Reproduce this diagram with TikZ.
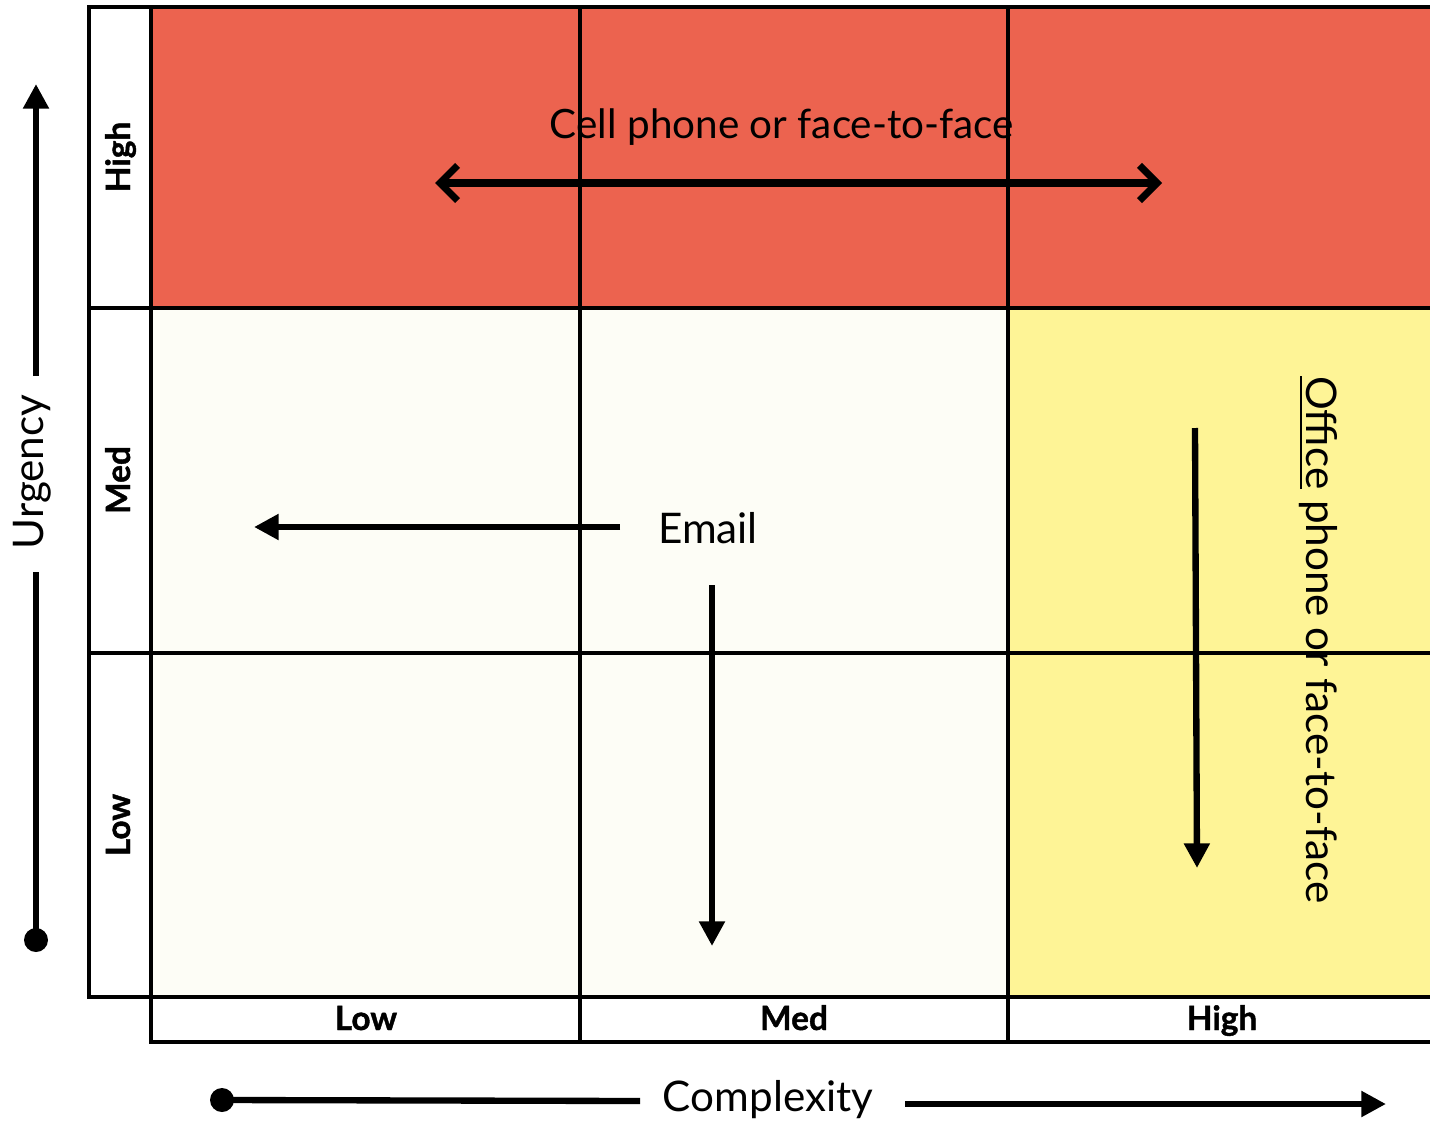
\documentclass[tikz,border=0pt]{standalone}
\usepackage{fontspec}
\setmainfont{Lato}
\newfontfamily\heavyfont{Lato}[BoldFeatures={FakeBold=1.2}]
\usetikzlibrary{arrows.meta}
\definecolor{hotred}{RGB}{236,99,79}
\definecolor{paleyellow}{RGB}{254,244,150}
\definecolor{cream}{RGB}{253,253,246}
\begin{document}
\begin{tikzpicture}[x=0.01cm,y=-0.01cm,
  gridline/.style={line width=1pt, black},
  axislbl/.style={font=\heavyfont\bfseries\fontsize{9.5}{11}\selectfont, inner sep=0pt},
  bigtxt/.style={font=\fontsize{12}{14}\selectfont, inner sep=0pt},
  fatarrow/.style={line width=1.8pt, -{Triangle[length=7pt,width=7pt]}},
  plainbar/.style={line width=1.8pt},
  barbarrow/.style={line width=2pt, {Straight Barb[length=5pt,width=10pt]}-{Straight Barb[length=5pt,width=10pt]}},
  enddot/.style={fill=black, draw=none},
]
\useasboundingbox (0,0) rectangle (1430,1124);
\fill[white] (0,0) rectangle (1430,1124);

% coloured cells
\fill[hotred] (151,7) rectangle (1430,308);
\fill[cream] (151,308) rectangle (1008,997);
\fill[paleyellow] (1008,308) rectangle (1430,997);

% grid
\draw[gridline] (1430,7) -- (89,7) -- (89,997) -- (1430,997);
\draw[gridline] (89,308) -- (1430,308);
\draw[gridline] (89,653) -- (1430,653);
\draw[gridline] (151,7) -- (151,1042) -- (1430,1042);
\draw[gridline] (580,7) -- (580,1042);
\draw[gridline] (1008,7) -- (1008,1042);

% row labels (urgency levels)
\node[axislbl, rotate=90, anchor=base] (rowHigh) at (130,157) {High};
\node[axislbl, rotate=90, anchor=base] (rowMed)  at (130,480) {Med};
\node[axislbl, rotate=90, anchor=base] (rowLow)  at (130,825) {Low};

% column labels (complexity levels)
\node[axislbl, anchor=base] (colLow)  at (366,1030) {Low};
\node[axislbl, anchor=base] (colMed)  at (794,1030) {Med};
\node[axislbl, anchor=base] (colHigh) at (1222,1030) {High};

% cell phone band
\node[bigtxt, font=\fontsize{11.5}{14}\selectfont] (cell) at (782,127) {Cell phone or face-to-face};
\coordinate (cellL) at (435,183);
\coordinate (cellR) at (1162,183);
\draw[barbarrow] (cellL) -- (cellR);

% email
\node[bigtxt] (email) at (708,528) {Email};
\coordinate (emailS) at (620,527);
\coordinate (emailL) at (254,527);
\coordinate (emailT) at (712,585);
\coordinate (emailD) at (712,946);
\draw[fatarrow] (emailS) -- (emailL);
\draw[fatarrow] (emailT) -- (emailD);

% office phone
\node[bigtxt, rotate=-90] (office) at (1318,640) {\underline{Office} phone or face-to-face};
\coordinate (offT) at (1195,428);
\coordinate (offB) at (1197,868);
\draw[fatarrow] (offT) -- (offB);

% urgency axis
\node[bigtxt, rotate=90] (urg) at (32,472) {Urgency};
\coordinate (urgDot) at (36,940);
\coordinate (urgLo) at (36,572);
\coordinate (urgHi) at (36,376);
\coordinate (urgTop) at (36,84);
\draw[plainbar] (urgDot) -- (urgLo);
\draw[fatarrow] (urgHi) -- (urgTop);
\fill[enddot] (urgDot) circle (12);

% complexity axis
\node[bigtxt] (cpx) at (768,1100) {Complexity};
\coordinate (cpxDot) at (222,1100);
\coordinate (cpxLo) at (640,1101);
\coordinate (cpxHi) at (905,1104);
\coordinate (cpxEnd) at (1386,1104);
\draw[plainbar] (cpxDot) -- (cpxLo);
\draw[fatarrow] (cpxHi) -- (cpxEnd);
\fill[enddot] (cpxDot) circle (12);
\end{tikzpicture}
\end{document}
